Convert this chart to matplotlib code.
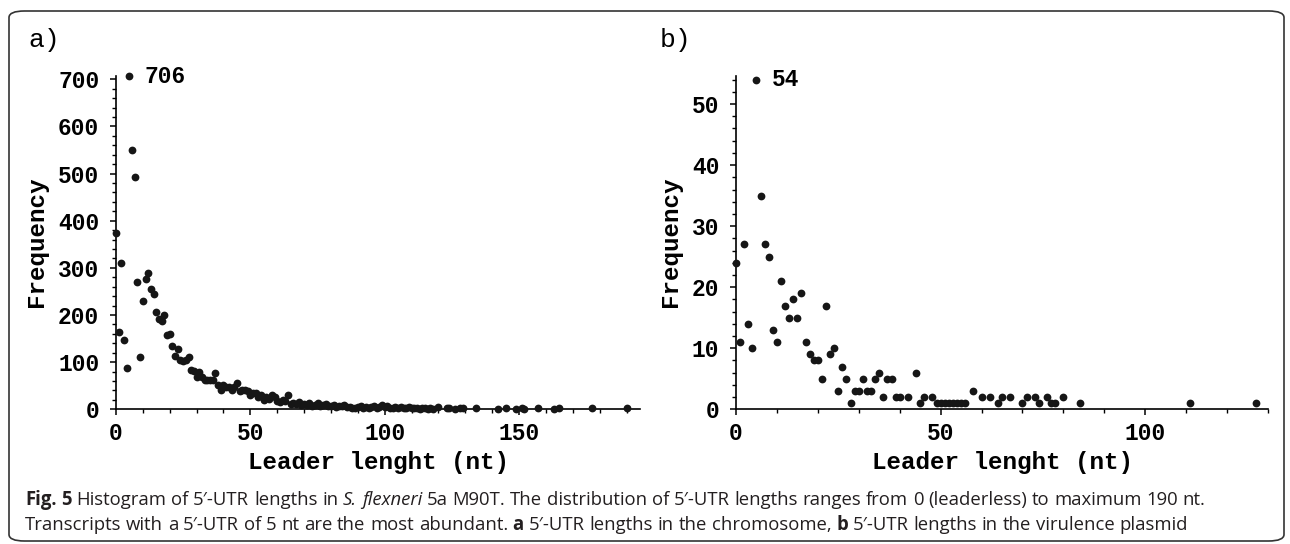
import matplotlib
matplotlib.use('Agg')
import matplotlib.pyplot as plt
from matplotlib.patches import FancyBboxPatch
from matplotlib import font_manager
from matplotlib.ticker import MultipleLocator, FixedLocator

# ---------------- data ----------------
len_a = [0, 1, 2, 3, 4, 5, 6, 7, 8, 9, 10, 11, 12, 13, 14, 15, 16, 17, 18, 19,
         20, 21, 22, 23, 24, 25, 26, 27, 28, 29, 30, 31, 32, 33, 34, 35, 36, 37, 38, 39,
         40, 41, 42, 43, 44, 45, 46, 47, 48, 49, 50, 51, 52, 53, 54, 55, 56, 57, 58, 59,
         60, 61, 62, 63, 64, 65, 66, 67, 68, 69, 70, 71, 72, 73, 74, 75, 76, 77, 78, 79,
         80, 81, 82, 83, 84, 85, 86, 87, 88, 89, 90, 91, 92, 93, 94, 95, 96, 97, 98, 99,
         100, 101, 102, 103, 104, 105, 106, 107, 108, 109, 110, 111, 112, 113, 114, 115, 116, 117, 118,
         120, 123, 124, 126, 128, 129, 134, 142, 145, 149, 151, 152, 157, 163, 165, 177, 190]
freq_a = [373, 163, 311, 146, 87, 706, 549, 493, 269, 112, 230, 276, 290, 255, 244, 206, 191, 188, 199, 158,
          160, 135, 114, 128, 105, 102, 105, 112, 83, 82, 69, 80, 68, 62, 62, 63, 63, 76, 52, 41,
          52, 48, 48, 41, 48, 55, 38, 41, 41, 38, 31, 34, 34, 27, 31, 20, 27, 22, 31, 27,
          18, 15, 20, 17, 31, 12, 14, 11, 15, 10, 12, 9, 13, 8, 10, 14, 7, 9, 12, 6,
          8, 10, 5, 7, 6, 9, 4, 5, 3, 2, 4, 6, 3, 5, 2, 4, 7, 3, 5, 9,
          4, 6, 3, 2, 5, 3, 4, 2, 3, 5, 2, 3, 2, 1, 3, 2, 1, 2, 1,
          5, 2, 2, 1, 2, 2, 2, 1, 2, 1, 2, 1, 2, 1, 2, 2, 2]

len_b = [0, 1, 2, 3, 4, 5, 6, 7, 8, 9, 10, 11, 12, 13, 14, 15, 16, 17, 18, 19,
         20, 21, 22, 23, 24, 25, 26, 27, 28, 29, 30, 31, 32, 33, 34, 35, 36, 37, 38, 39,
         40, 42, 44, 45, 46, 48, 49, 50, 51, 52, 53, 54, 55, 56, 58, 60, 62, 64, 65, 67,
         70, 71, 73, 74, 76, 77, 78, 80, 84, 111, 127]
freq_b = [24, 11, 27, 14, 10, 54, 35, 27, 25, 13, 11, 21, 17, 15, 18, 15, 19, 11, 9, 8,
          8, 5, 17, 9, 10, 3, 7, 5, 1, 3, 3, 5, 3, 3, 5, 6, 2, 5, 5, 2,
          2, 2, 6, 1, 2, 2, 1, 1, 1, 1, 1, 1, 1, 1, 3, 2, 2, 1, 2, 2,
          1, 2, 2, 1, 2, 1, 1, 2, 1, 1, 1]

xticks_a = [0, 50, 100, 150]
yticks_a = [0, 100, 200, 300, 400, 500, 600, 700]
xticks_b = [0, 50, 100]
yticks_b = [0, 10, 20, 30, 40, 50]
peak_a = (5, 706)
peak_b = (5, 54)

# ---------------- fonts ----------------
def has_font(name):
    try:
        font_manager.findfont(font_manager.FontProperties(family=name), fallback_to_default=False)
        return True
    except Exception:
        return False

MONO = 'Liberation Mono'
CAP = 'Liberation Sans Narrow' if has_font('Liberation Sans Narrow') else 'Open Sans'

W, H = 1290, 544
fig = plt.figure(figsize=(W / 100, H / 100), dpi=100)

def fx(x):
    return x / W

def fy(y):
    return 1 - y / H

# border
border = FancyBboxPatch((fx(9), fy(541)), fx(1284) - fx(9), fy(11) - fy(541),
                        boxstyle='round,pad=0,rounding_size=0.012',
                        transform=fig.transFigure, fill=False, ec='#333333', lw=1.2)
fig.patches.append(border)

TICK_FS = 16.5
LABEL_FS = 17.5
DOT = 5.6
COL = '#161616'

def style_axes(ax, xmax, ymax, xt, yt, xminor, yminor):
    ax.set_xlim(0, xmax)
    ax.set_ylim(0, ymax)
    for s in ('top', 'right'):
        ax.spines[s].set_visible(False)
    for s in ('left', 'bottom'):
        ax.spines[s].set_linewidth(1.2)
    ax.xaxis.set_major_locator(FixedLocator(xt))
    ax.yaxis.set_major_locator(FixedLocator(yt))
    ax.xaxis.set_minor_locator(MultipleLocator(xminor))
    ax.yaxis.set_minor_locator(MultipleLocator(yminor))
    ax.tick_params(which='major', direction='out', length=4, width=1.1)
    ax.tick_params(which='minor', direction='out', length=2.8, width=1.0)
    ax.tick_params(axis='x', which='major', pad=5.5)
    ax.tick_params(axis='y', which='major', pad=8)
    for lab in ax.get_xticklabels() + ax.get_yticklabels():
        lab.set_fontfamily(MONO)
        lab.set_fontweight('bold')
        lab.set_fontsize(TICK_FS)
    ax.patch.set_alpha(0)

A_L, A_R = 116, 640
B_L, B_R = 736, 1268
TOP, BOT = 76, 409.3

ax_a = fig.add_axes([fx(A_L), fy(BOT), (A_R - A_L) / W, (BOT - TOP) / H])
ax_a.scatter(len_a, freq_a, s=DOT ** 2, color=COL, clip_on=False, zorder=3, linewidths=0)
style_axes(ax_a, 195, 707, xticks_a, yticks_a, 10, 20)
ax_a.annotate('706', xy=peak_a, xytext=(11, 0), textcoords='offset points',
              va='center', ha='left', family=MONO, fontweight='bold', fontsize=TICK_FS)

ax_b = fig.add_axes([fx(B_L), fy(BOT), (B_R - B_L) / W, (BOT - TOP) / H])
ax_b.scatter(len_b, freq_b, s=DOT ** 2, color=COL, clip_on=False, zorder=3, linewidths=0)
style_axes(ax_b, 130, 54.6, xticks_b, yticks_b, 10, 2)
ax_b.annotate('54', xy=peak_b, xytext=(11, 0), textcoords='offset points',
              va='center', ha='left', family=MONO, fontweight='bold', fontsize=TICK_FS)

# panel letters
fig.text(fx(28), fy(40), 'a)', family=MONO, fontsize=19, va='center', ha='left')
fig.text(fx(660), fy(40), 'b)', family=MONO, fontsize=19, va='center', ha='left')

# axis labels
fig.text(fx(36), fy(242), 'Frequency', family=MONO, fontweight='bold', fontsize=LABEL_FS,
         rotation=90, va='center', ha='center')
fig.text(fx(670), fy(242), 'Frequency', family=MONO, fontweight='bold', fontsize=LABEL_FS,
         rotation=90, va='center', ha='center')
fig.text(fx((A_L + A_R) / 2), fy(463), 'Leader lenght (nt)', family=MONO, fontweight='bold',
         fontsize=LABEL_FS, va='center', ha='center')
fig.text(fx((B_L + B_R) / 2), fy(463), 'Leader lenght (nt)', family=MONO, fontweight='bold',
         fontsize=LABEL_FS, va='center', ha='center')

# caption with mixed styles
line1 = [('Fig. 5', 'bold', 'normal'),
         ('Histogram of 5′-UTR lengths in', 'normal', 'normal'),
         ('S.', 'normal', 'italic'),
         ('flexneri', 'normal', 'italic'),
         ('5a M90T. The distribution of 5′-UTR lengths ranges from 0 (leaderless) to maximum 190 nt.', 'normal', 'normal')]
line2 = [('Transcripts with a 5′-UTR of 5 nt are the most abundant.', 'normal', 'normal'),
         ('a', 'bold', 'normal'),
         ('5′-UTR lengths in the chromosome,', 'normal', 'normal'),
         ('b', 'bold', 'normal'),
         ('5′-UTR lengths in the virulence plasmid', 'normal', 'normal')]

renderer = fig.canvas.get_renderer()

def word_width(w, size, weight, style):
    t = fig.text(0, 0, w, family=CAP, fontsize=size, fontweight=weight, fontstyle=style)
    bb = t.get_window_extent(renderer)
    t.remove()
    return bb.width

def space_width(size):
    return word_width('a a', size, 'normal', 'normal') - word_width('aa', size, 'normal', 'normal')

def layout(runs, size):
    items = []
    for text, weight, style in runs:
        for w in text.split(' '):
            items.append((w, weight, style))
    sp = space_width(size)
    pos = []
    x = 0
    for w, weight, style in items:
        pos.append((x, w, weight, style))
        x += word_width(w, size, weight, style) + sp
    return pos, x - sp

CAP_X = 25
size = 13.0
for _ in range(3):
    _, wd = layout(line1, size)
    size *= (1208 - CAP_X) / wd

CAP_COL = '#231f20'
for runs, base in ((line1, 505), (line2, 530)):
    pos, _ = layout(runs, size)
    for x, w, weight, style in pos:
        fig.text(fx(CAP_X + x), fy(base), w, family=CAP, fontsize=size, fontweight=weight,
                 fontstyle=style, va='baseline', ha='left', color=CAP_COL)

fig.savefig('out.png', dpi=100)
